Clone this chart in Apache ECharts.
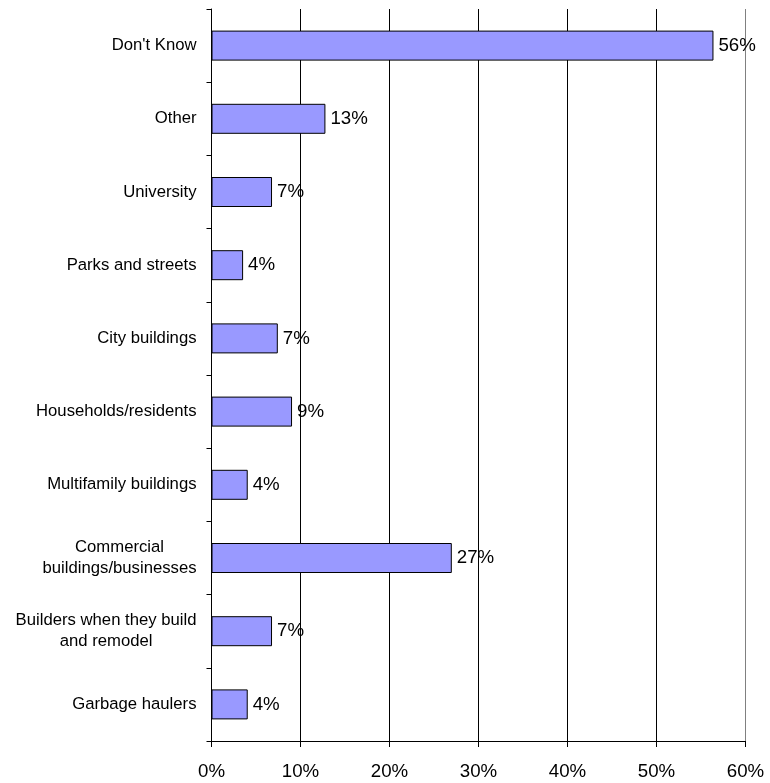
<!DOCTYPE html>
<html>
<head>
<meta charset="utf-8">
<script src="https://cdn.jsdelivr.net/npm/echarts@6/dist/echarts.min.js"></script>
<style>
  html, body { margin: 0; padding: 0; background: #fff; }
  #chart { width: 770px; height: 783px; }
</style>
</head>
<body>
<div id="chart"></div>
<script>
// Categories listed top to bottom
var categories = [
  "Don't Know",
  "Other",
  "University",
  "Parks and streets",
  "City buildings",
  "Households/residents",
  "Multifamily buildings",
  "Commercial\nbuildings/businesses",
  "Builders when they build\nand remodel",
  "Garbage haulers"
];

// Share of responses (percent)
var shares = [56.4, 12.8, 6.8, 3.55, 7.45, 9.05, 4.07, 27.0, 6.8, 4.07];

// Value axis range and step (percent)
var axisMin = 0;
var axisMax = 60;
var axisStep = 10;

var chart = echarts.init(document.getElementById('chart'), null, { renderer: 'canvas' });

var FONT = '"Liberation Sans", Arial, sans-serif';

chart.setOption({
  backgroundColor: '#ffffff',
  animation: false,
  grid: { left: 211.5, right: 24.5, top: 9, bottom: 42, containLabel: false },
  xAxis: {
    type: 'value',
    min: axisMin,
    max: axisMax,
    interval: axisStep,
    axisLine: { show: true, lineStyle: { color: '#000', width: 1 } },
    axisTick: { show: true, length: 6, lineStyle: { color: '#000' } },
    axisLabel: {
      margin: 21,
      color: '#000',
      fontFamily: FONT,
      fontSize: 18.7,
      formatter: function (v) { return v + '%'; }
    },
    splitLine: {
      show: true,
      lineStyle: {
        color: ['#000', '#000', '#000', '#000', '#000', '#000', '#808080'],
        width: 1
      }
    }
  },
  yAxis: {
    type: 'category',
    data: categories,
    inverse: true,
    axisLine: { show: true, lineStyle: { color: '#000', width: 1 } },
    axisTick: { show: true, length: 5, alignWithLabel: false, lineStyle: { color: '#000' } },
    axisLabel: {
      margin: 15,
      color: '#000',
      fontFamily: FONT,
      fontSize: 16.7,
      lineHeight: 21,
      align: 'right',
      formatter: function (v) {
        return v.split('\n').map(function (line) { return '{c|' + line + '}'; }).join('\n');
      },
      rich: {
        c: {
          align: 'center',
          color: '#000',
          fontFamily: FONT,
          fontSize: 16.7,
          lineHeight: 21
        }
      }
    },
    splitLine: { show: false }
  },
  series: [{
    type: 'bar',
    data: shares,
    barWidth: 30,
    itemStyle: {
      color: '#9999FF',
      borderColor: '#000',
      borderWidth: 1
    },
    label: {
      show: true,
      position: 'right',
      distance: 5,
      color: '#000',
      fontFamily: FONT,
      fontSize: 18.7,
      formatter: function (p) { return Math.round(p.value) + '%'; }
    }
  }]
});
</script>
</body>
</html>
